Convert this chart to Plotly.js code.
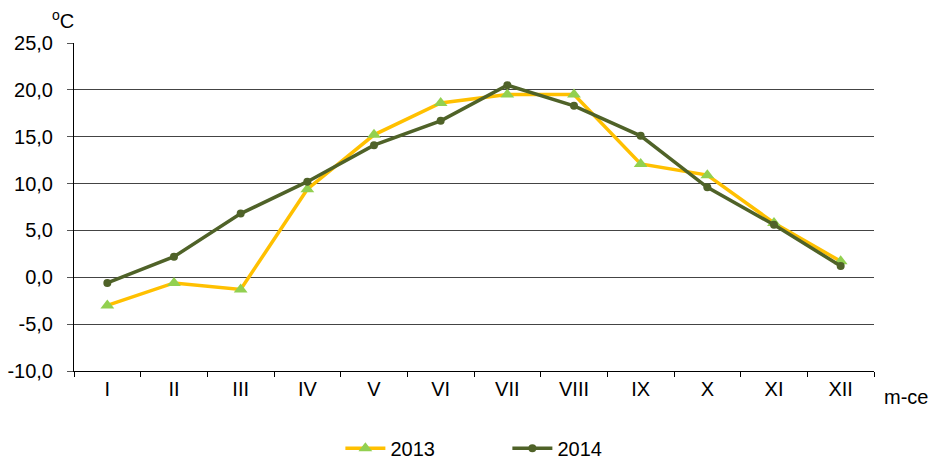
<!DOCTYPE html>
<html>
<head>
<meta charset="utf-8">
<script src="https://cdn.plot.ly/plotly-3.0.1.min.js"></script>
<style>html,body{margin:0;padding:0;background:#fff;}#chart{width:930px;height:462px;}</style>
</head>
<body>
<div id="chart"></div>
<script>
const months = ["I","II","III","IV","V","VI","VII","VIII","IX","X","XI","XII"];
const series2013 = [-3.0, -0.6, -1.3, 9.4, 15.2, 18.6, 19.5, 19.5, 12.1, 10.9, 5.8, 1.7];
const series2014 = [-0.6, 2.2, 6.8, 10.2, 14.1, 16.7, 20.5, 18.3, 15.1, 9.6, 5.6, 1.2];
const yTicks = [-10, -5, 0, 5, 10, 15, 20, 25];
const yTickLabels = ["-10,0", "-5,0", "0,0", "5,0", "10,0", "15,0", "20,0", "25,0"];

const font = {family: "Liberation Sans, Arial, sans-serif", size: 20, color: "#000"};

const traces = [
  {x: months, y: series2013, name: "2013", type: "scatter", mode: "lines+markers",
   line: {color: "#FFC000", width: 3.5},
   marker: {symbol: "triangle-up", size: 12, color: "#92D050"}},
  {x: months, y: series2014, name: "2014", type: "scatter", mode: "lines+markers",
   line: {color: "#4F6228", width: 3.5},
   marker: {symbol: "circle", size: 8, color: "#4F6228"}}
];

const layout = {
  width: 930, height: 462,
  margin: {l: 74, r: 56, t: 43, b: 91, autoexpand: false},
  paper_bgcolor: "#fff", plot_bgcolor: "#fff",
  font: font,
  showlegend: true,
  legend: {orientation: "h", x: 0.366, xanchor: "left", xref: "container",
           y: 0.03, yanchor: "middle", yref: "container",
           font: font, itemwidth: 40, entrywidth: 112},
  xaxis: {
    type: "category", tickson: "boundaries", ticks: "outside", ticklen: 5, tickcolor: "#000",
    showline: true, linecolor: "#000", linewidth: 1, showgrid: false, zeroline: false,
    tickfont: font, fixedrange: true, range: [-0.5, 11.5], automargin: false
  },
  yaxis: {
    range: [-10, 25], tickvals: yTicks, ticktext: yTickLabels,
    ticks: "outside", ticklen: 6, tickcolor: "#555",
    showline: true, linecolor: "#000", linewidth: 1,
    showgrid: true, gridcolor: "#444", gridwidth: 1, zeroline: false,
    tickfont: font, ticklabelstandoff: 10, automargin: false
  },
  annotations: [
    {text: "<sup>o</sup>C", xref: "paper", yref: "paper", x: 0, y: 1, xshift: -11, yshift: 24,
     showarrow: false, font: font, xanchor: "center", yanchor: "middle"},
    {text: "m-ce", xref: "paper", yref: "paper", x: 1, y: 0, xshift: 8, yshift: -26,
     showarrow: false, font: font, xanchor: "left", yanchor: "middle"}
  ]
};

Plotly.newPlot("chart", traces, layout, {displayModeBar: false, staticPlot: true});
</script>
</body>
</html>
